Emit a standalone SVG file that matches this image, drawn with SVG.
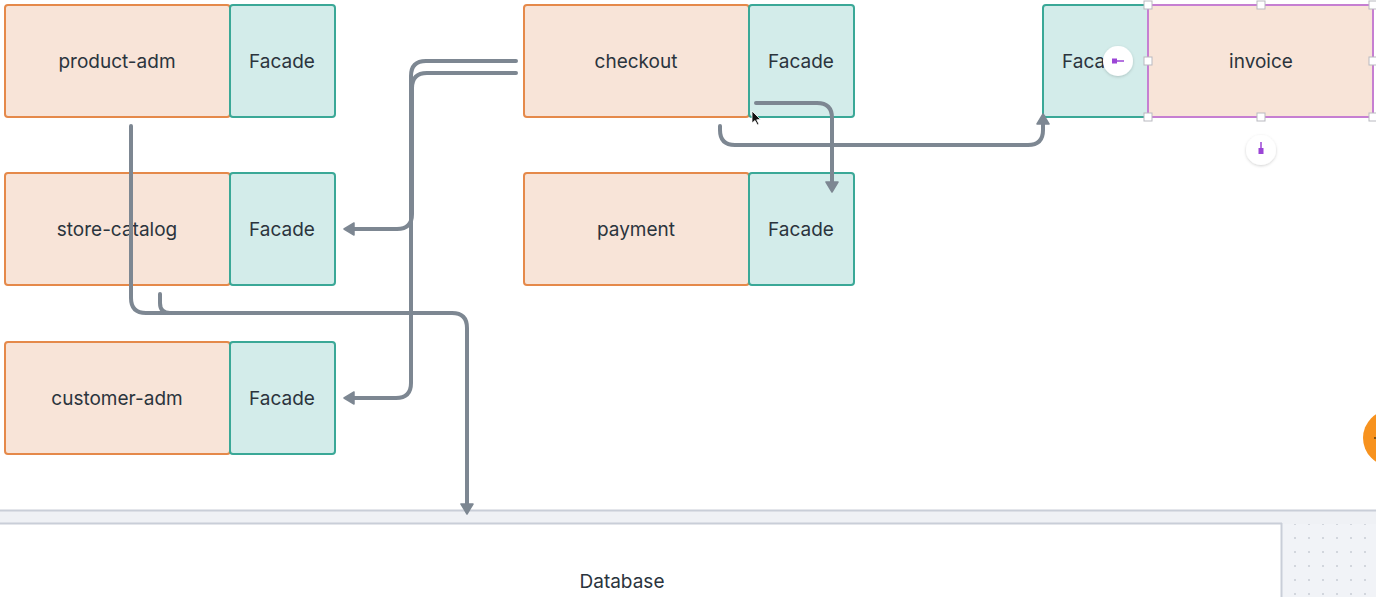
<svg xmlns="http://www.w3.org/2000/svg" width="1376" height="597" viewBox="0 0 1376 597">
<style>
.mod{fill:#f8e4d8;stroke:#e5894a;stroke-width:2}
.fac{fill:#d3ecea;stroke:#3aa897;stroke-width:2}
.lbl{font-family:Inter,"Noto Sans",sans-serif;font-size:19px;font-weight:400;fill:#2b343d;text-anchor:middle}
.conn{fill:none;stroke:#7d8792;stroke-width:4;stroke-linecap:round;stroke-linejoin:round}
.hdl{fill:#fff;stroke:#b9b9c0;stroke-width:1}
</style>
<defs>
<marker id="arr" markerUnits="userSpaceOnUse" viewBox="0 0 12 14" markerWidth="12" markerHeight="14" refX="2" refY="7" orient="auto">
<path d="M1,1 L11,7 L1,13 z" fill="#7d8792" stroke="#7d8792" stroke-width="1.5" stroke-linejoin="round"/>
</marker>
<pattern id="dots" x="1288" y="517" width="14" height="14" patternUnits="userSpaceOnUse">
<circle cx="7" cy="7" r="1" fill="#c8ccd4"/>
</pattern>
<filter id="sh" x="-50%" y="-50%" width="200%" height="200%">
<feDropShadow dx="0" dy="1" stdDeviation="1.5" flood-color="#000" flood-opacity="0.18"/>
</filter>
</defs>
<rect width="1376" height="597" fill="#fff"/>

<g id="database">
<rect x="0" y="510" width="1376" height="14" fill="#eff1f5"/>
<line x1="0" y1="510.5" x2="1376" y2="510.5" stroke="#c9ced8" stroke-width="2"/>
<rect x="1282" y="524" width="94" height="73" fill="#f1f3f7"/>
<rect x="1282" y="524" width="94" height="73" fill="url(#dots)"/>
<rect x="0" y="524" width="1281" height="73" fill="#fff"/>
<line x1="0" y1="523.5" x2="1282" y2="523.5" stroke="#c9ced8" stroke-width="2"/>
<line x1="1281.5" y1="523" x2="1281.5" y2="597" stroke="#c9ced8" stroke-width="2"/>
<text class="lbl" x="622" y="588">Database</text>
</g>

<g id="product-adm">
<rect class="mod" x="5" y="5" width="225" height="112" rx="3"/>
<rect class="fac" x="230" y="5" width="105" height="112" rx="3"/>
<text class="lbl" x="117" y="68">product-adm</text>
<text class="lbl" x="282" y="68">Facade</text>
</g>
<g id="store-catalog">
<rect class="mod" x="5" y="173" width="225" height="112" rx="3"/>
<rect class="fac" x="230" y="173" width="105" height="112" rx="3"/>
<text class="lbl" x="117" y="236">store-catalog</text>
<text class="lbl" x="282" y="236">Facade</text>
</g>
<g id="customer-adm">
<rect class="mod" x="5" y="342" width="225" height="112" rx="3"/>
<rect class="fac" x="230" y="342" width="105" height="112" rx="3"/>
<text class="lbl" x="117" y="405">customer-adm</text>
<text class="lbl" x="282" y="405">Facade</text>
</g>
<g id="checkout">
<rect class="mod" x="524" y="5" width="225" height="112" rx="3"/>
<rect class="fac" x="749" y="5" width="105" height="112" rx="3"/>
<text class="lbl" x="636" y="68">checkout</text>
<text class="lbl" x="801" y="68">Facade</text>
</g>
<g id="payment">
<rect class="mod" x="524" y="173" width="225" height="112" rx="3"/>
<rect class="fac" x="749" y="173" width="105" height="112" rx="3"/>
<text class="lbl" x="636" y="236">payment</text>
<text class="lbl" x="801" y="236">Facade</text>
</g>
<g id="invoice">
<rect class="fac" x="1043" y="5" width="105" height="112" rx="3"/>
<text class="lbl" x="1095" y="68">Facade</text>
<rect class="mod" x="1148" y="5" width="225" height="112" rx="1" style="stroke:#c67fd2"/>
<text class="lbl" x="1261" y="68">invoice</text>
<rect class="hdl" x="1144" y="1" width="8" height="8"/>
<rect class="hdl" x="1257" y="1" width="8" height="8"/>
<rect class="hdl" x="1369" y="1" width="8" height="8"/>
<rect class="hdl" x="1144" y="57" width="8" height="8"/>
<rect class="hdl" x="1369" y="57" width="8" height="8"/>
<rect class="hdl" x="1144" y="113" width="8" height="8"/>
<rect class="hdl" x="1257" y="113" width="8" height="8"/>
<rect class="hdl" x="1369" y="113" width="8" height="8"/>
<circle cx="1118" cy="61" r="15" fill="#fff" filter="url(#sh)"/>
<rect x="1112" y="58.5" width="5" height="5" fill="#9b45d6"/>
<line x1="1117" y1="61" x2="1124" y2="61" stroke="#9b45d6" stroke-width="1.5"/>
<circle cx="1261" cy="150" r="15" fill="#fff" filter="url(#sh)"/>
<rect x="1258.5" y="148" width="5" height="6" fill="#9b45d6"/>
<line x1="1261" y1="148" x2="1261" y2="142" stroke="#9b45d6" stroke-width="1.5"/>
</g>

<g id="connectors">
<path class="conn" d="M516,73 H427 Q412,73 412,88 V214 Q412,229 397,229 H353" marker-end="url(#arr)"/>
<path class="conn" d="M516,61 H426 Q411,61 411,76 V383 Q411,398 396,398 H353" marker-end="url(#arr)"/>
<path class="conn" d="M131,126 V298 Q131,313 146,313 H452 Q467,313 467,328 V505" marker-end="url(#arr)"/>
<path class="conn" d="M160,294 V303 Q160,313 170,313"/>
<path class="conn" d="M756,103 H817 Q832,103 832,118 V183" marker-end="url(#arr)"/>
<path class="conn" d="M720,126 V130 Q720,145 735,145 H1028 Q1043,145 1043,130 V123" marker-end="url(#arr)"/>
</g>

<g id="overlay">
<circle cx="1391" cy="438" r="28" fill="#f7921e"/>
<line x1="1374" y1="438" x2="1377" y2="438" stroke="#5a3a10" stroke-width="1.5"/>
<path d="M752,111 L752,123 L755,120.5 L757.5,125 L759,124.2 L756.7,119.8 L760.5,119.5 Z" fill="#111" stroke="#fff" stroke-width="0.8"/>
</g>
</svg>
